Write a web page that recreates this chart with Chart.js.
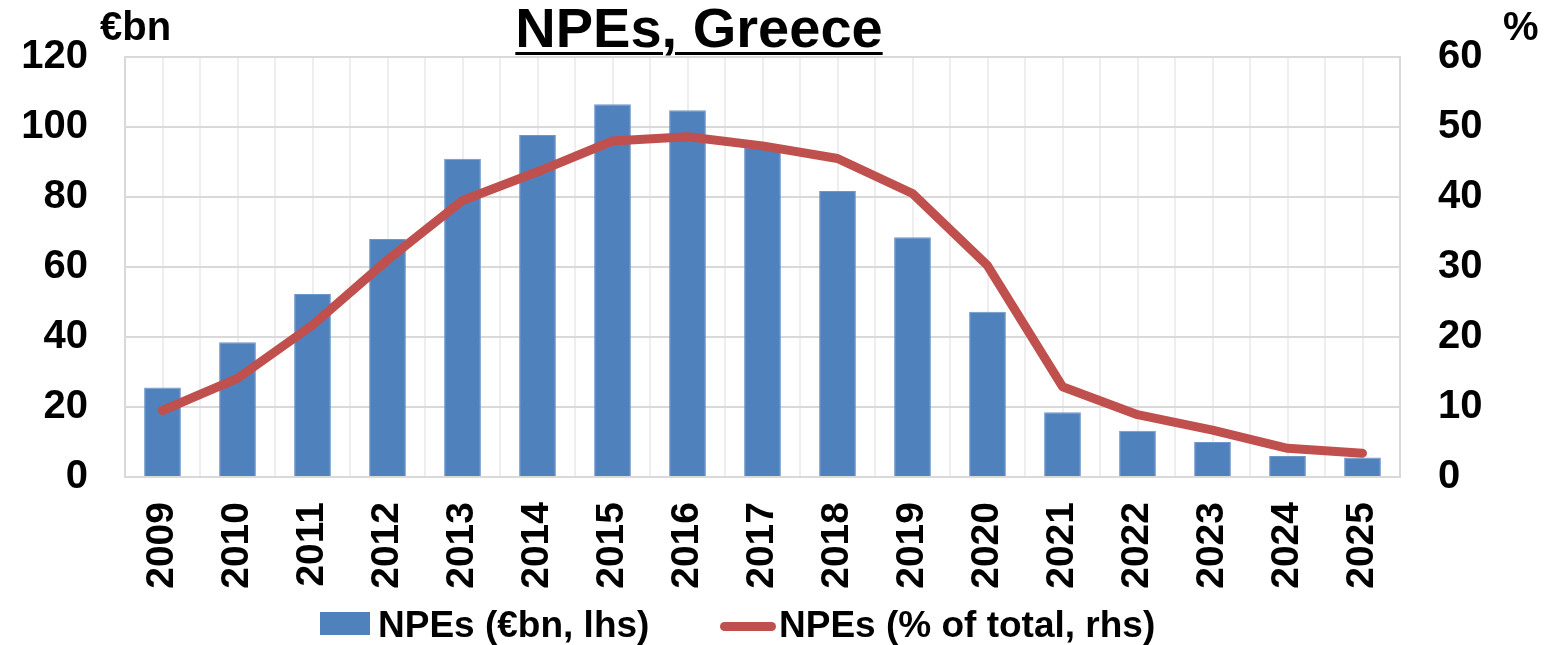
<!DOCTYPE html>
<html>
<head>
<meta charset="utf-8">
<script src="https://cdn.jsdelivr.net/npm/chart.js@4.4.1/dist/chart.umd.min.js"></script>
<style>
  html, body { margin: 0; padding: 0; background: #fff; }
  #wrap { position: relative; width: 1568px; height: 645px; font-family: "Liberation Sans", Arial, sans-serif; font-weight: bold; color: #000; }
  canvas { position: absolute; left: 0; top: 0; }
  .txt { position: absolute; line-height: 1; white-space: nowrap; }
  #title { left: 699px; top: 0; font-size: 56px; text-decoration: underline; text-decoration-thickness: 3px; text-underline-offset: 5px; transform: translateX(-50%); }
  #unitL { left: 100px; top: 6px; font-size: 40px; }
  #unitR { left: 1503px; top: 6px; font-size: 40px; }
  .lg { position: absolute; top: 606px; font-size: 37px; line-height: 1; white-space: nowrap; }
  .sw { position: absolute; }
</style>
</head>
<body>
<div id="wrap">
  <canvas id="c" width="1568" height="645"></canvas>
  <div class="txt" id="title">NPEs, Greece</div>
  <div class="txt" id="unitL">€bn</div>
  <div class="txt" id="unitR">%</div>
  <div class="sw" style="left:320px;top:612px;width:50px;height:23px;background:#4f81bd"></div>
  <div class="lg" style="left:378px">NPEs (€bn, lhs)</div>
  <div class="sw" style="left:720px;top:622px;width:56px;height:9px;border-radius:5px;background:#c0504d"></div>
  <div class="lg" style="left:779px">NPEs (% of total, rhs)</div>
</div>
<script>
// ---- NPEs, Greece: stock (bars, lhs) and ratio (line, rhs) ----
const years = ['2009', '2010', '2011', '2012', '2013', '2014', '2015', '2016', '2017',
  '2018', '2019', '2020', '2021', '2022', '2023', '2024', '2025'];
const npeBn = [25.6, 38.5, 52.3, 68, 90.9, 97.7, 106.5, 104.8, 94, 81.7, 68.5, 47.2, 18.5, 13.2, 10, 6, 5.6];
const npePct = [9.5, 14.1, 21.7, 31, 39.5, 43.6, 48, 48.6, 47.3, 45.5, 40.5, 30.2, 12.9, 8.9, 6.7, 4.1, 3.4];
const lhsTicks = { min: 0, max: 120, step: 20 };
const rhsTicks = { min: 0, max: 60, step: 10 };

const FONT = '"Liberation Sans", Arial, sans-serif';
const hGrid = '#d9d9d9';
const vGrid = '#eeeeee';

// fixed axis boxes so the plot area lands where the original has it
const fitY = w => s => { s.width = w; s.paddingTop = 0; s.paddingBottom = 0; };
const fitX = h => s => { s.height = h; s.paddingLeft = 0; s.paddingRight = 0; };

new Chart(document.getElementById('c').getContext('2d'), {
  data: {
    labels: years,
    datasets: [
      {
        type: 'line',
        label: 'NPEs (% of total, rhs)',
        data: npePct,
        yAxisID: 'y1',
        borderColor: '#c0504d',
        backgroundColor: '#c0504d',
        borderWidth: 9,
        borderCapStyle: 'round',
        borderJoinStyle: 'round',
        pointRadius: 0,
        tension: 0,
        order: 0,
      },
      {
        type: 'bar',
        label: 'NPEs (€bn, lhs)',
        data: npeBn,
        yAxisID: 'y',
        backgroundColor: '#4f81bd',
        borderColor: '#6e96c8',
        borderWidth: 1,
        categoryPercentage: 1,
        barPercentage: 0.49,
        order: 1,
      },
    ],
  },
  options: {
    responsive: false,
    animation: false,
    devicePixelRatio: 1,
    layout: { padding: { top: 57, left: 0, right: 0, bottom: 0 } },
    plugins: { legend: { display: false }, tooltip: { enabled: false } },
    scales: {
      x: {
        type: 'category',
        position: 'bottom',
        offset: true,
        grid: { offset: true, color: vGrid, lineWidth: 2, drawTicks: false },
        border: { display: true, color: hGrid, width: 2 },
        ticks: { color: '#000', font: { family: FONT, size: 39, weight: 'bold' }, minRotation: 90, maxRotation: 90, padding: 25, autoSkip: false },
        afterFit: fitX(168),
      },
      // second category axis only to draw the gridlines through the bar centres
      xc: {
        type: 'category',
        position: 'bottom',
        offset: true,
        grid: { offset: false, color: vGrid, lineWidth: 2, drawTicks: false },
        border: { display: false },
        ticks: { display: false },
        afterFit: fitX(0),
      },
      y: {
        position: 'left',
        min: lhsTicks.min, max: lhsTicks.max,
        grid: { color: hGrid, lineWidth: 2, drawTicks: false },
        border: { display: true, color: hGrid, width: 2 },
        ticks: { stepSize: lhsTicks.step, color: '#000', font: { family: FONT, size: 40, weight: 'bold' }, padding: 37 },
        afterFit: fitY(125),
      },
      y1: {
        position: 'right',
        min: rhsTicks.min, max: rhsTicks.max,
        grid: { drawOnChartArea: false, drawTicks: false },
        border: { display: true, color: hGrid, width: 2 },
        ticks: { stepSize: rhsTicks.step, color: '#000', font: { family: FONT, size: 40, weight: 'bold' }, padding: 38 },
        afterFit: fitY(168),
      },
    },
  },
});
</script>
</body>
</html>
